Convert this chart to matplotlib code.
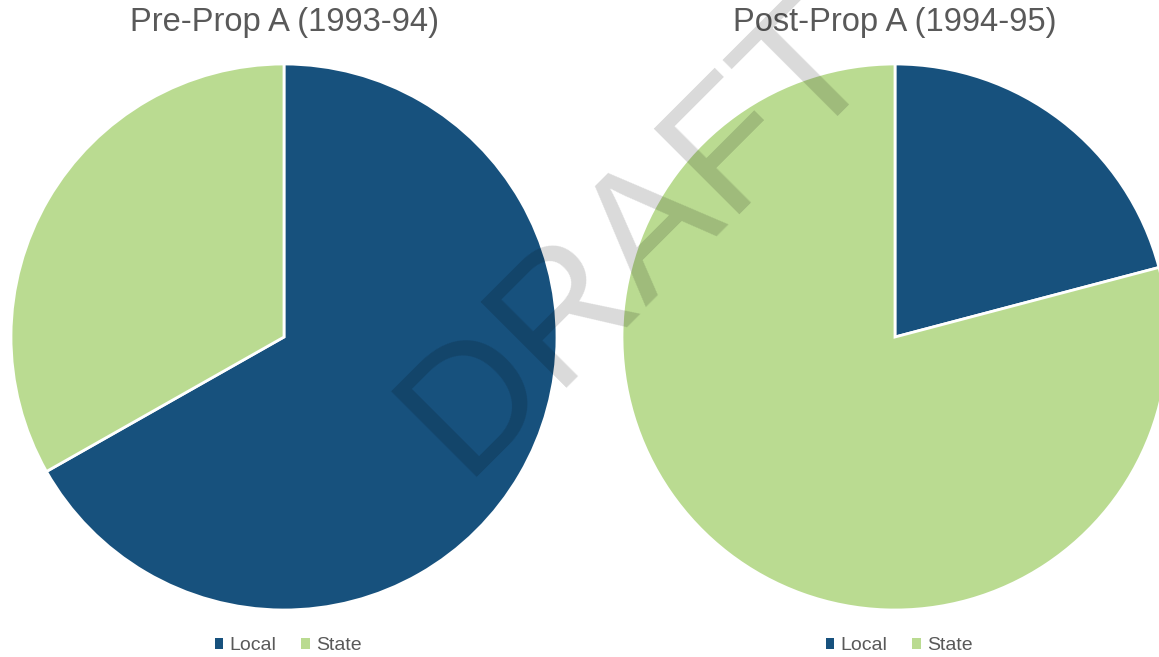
import matplotlib.pyplot as plt
from matplotlib.patches import Patch

plt.rcParams['font.family'] = ['Liberation Sans', 'DejaVu Sans']

categories = ['Local', 'State']
pre_shares = [66.8, 33.2]
post_shares = [20.9, 79.1]
titles = ['Pre-Prop A (1993-94)', 'Post-Prop A (1994-95)']
colors = ['#17517d', '#badb91']

W, H = 1159, 657
fig = plt.figure(figsize=(W / 100, H / 100), dpi=100)

r = 273
centers = [(284, 337), (895, 337)]
for (cx, cy), shares, title in zip(centers, [pre_shares, post_shares], titles):
    ax = fig.add_axes([(cx - r) / W, (H - cy - r) / H, 2 * r / W, 2 * r / H])
    ax.pie(shares, colors=colors, startangle=90, counterclock=False, radius=1,
           wedgeprops=dict(edgecolor='white', linewidth=2))
    ax.set_xlim(-1, 1)
    ax.set_ylim(-1, 1)
    ax.set_aspect('auto')
    ax.axis('off')
    fig.text(cx / W, 1 - 22 / H, title, ha='center', va='center',
             fontsize=23.5, color='#595959')
    handles = [Patch(facecolor=c, edgecolor='none') for c in colors]
    fig.legend(handles, categories, loc='center', ncol=2,
               bbox_to_anchor=((cx + 4) / W, 1 - 646 / H), frameon=False,
               fontsize=14, labelcolor='#595959', handlelength=0.45,
               handleheight=0.45, handletextpad=0.3, columnspacing=1.3)

# watermark
fig.text(638 / W, 1 - 237 / H, 'DRAFT', rotation=45, ha='center', va='center',
         fontsize=127, color='black', alpha=0.15, rotation_mode='anchor')

fig.savefig('out.png', dpi=100)
